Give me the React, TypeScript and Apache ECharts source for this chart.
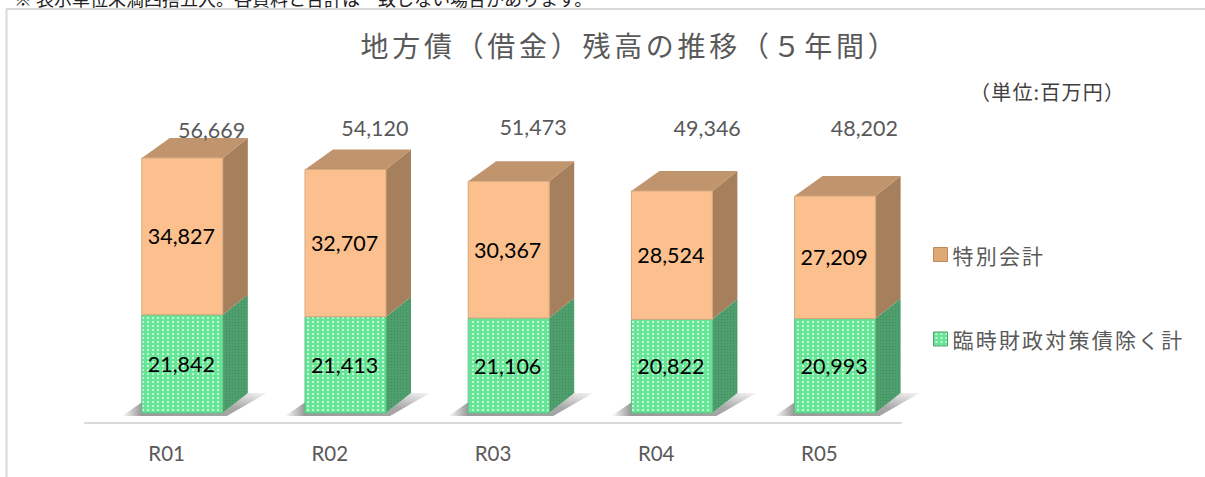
import React, { useEffect, useRef } from "react";
import * as echarts from "echarts";

const categories = ["R01", "R02", "R03", "R04", "R05"];
const lowerName = "臨時財政対策債除く計";
const upperName = "特別会計";
const lowerValues = [21842, 21413, 21106, 20822, 20993];
const upperValues = [34827, 32707, 30367, 28524, 27209];
const totals = [56669, 54120, 51473, 49346, 48202];
const totalOffsets = [45, 45, 40, 51, 45];
const totalYs = [130, 128, 127, 128, 128];
const titleText = "地方債（借金）残高の推移（５年間）";
const unitText = "（単位:百万円）";
const noteText = "※ 表示単位未満四捨五入。各資料と合計は一致しない場合があります。";

const NUM_FONT = "Lato, 'Noto Sans', sans-serif";
const CJK_FONT = "'Noto Sans CJK JP', sans-serif";

function dots(w: number, h: number, bg: string, dot: string, dx: number, dy: number, dw: number, dh: number) {
  const c = document.createElement("canvas");
  c.width = w;
  c.height = h;
  const g = c.getContext("2d")!;
  g.fillStyle = bg;
  g.fillRect(0, 0, w, h);
  g.fillStyle = dot;
  g.fillRect(dx, dy, dw, dh);
  return { image: c.toDataURL(), repeat: "repeat", imageWidth: w, imageHeight: h } as any;
}

export default function App() {
  const ref = useRef<HTMLDivElement>(null);
  useEffect(() => {
    document.body.style.margin = "0";
    const chart = echarts.init(ref.current!, null, { renderer: "svg" });
    const greenFront = dots(5, 4, "#66E596", "#C4F8D6", 2, 1, 2, 2);
    const greenSide = dots(3, 3, "#4E9E6E", "#3F8A5B", 1, 1, 1, 1);
    const OFFSET = 15.7;
    const HALF = 40.5;
    const DX = 25;
    const DY = -20;

    const seg = (isTop: boolean, values: number[], bases: number[], front: any, side: any, stroke: string) =>
      (params: any, api: any) => {
        const i = api.value(0);
        const cx = api.coord([i, 0])[0] + OFFSET;
        const x0 = cx - HALF;
        const x1 = cx + HALF;
        const yb = api.coord([i, bases[i]])[1];
        const yt = api.coord([i, bases[i] + values[i]])[1];
        const children: any[] = [];
        if (!isTop) {
          children.push(
            {
              type: "polygon",
              shape: { points: [[x0 - 20, yb + 3], [x0 + 2, yb - 12], [x0 + 2, yb + 3]] },
              style: { fill: new echarts.graphic.LinearGradient(0, 0, 1, 0, [{ offset: 0, color: "#ffffff" }, { offset: 1, color: "#8c8c8c" }]) },
            },
            {
              type: "polygon",
              shape: { points: [[x0, yb], [x1, yb], [x1 + DX, yb + DY], [x1 + DX + 19, yb + DY], [x1 + 4, yb + 3], [x0, yb + 3]] },
              style: { fill: new echarts.graphic.LinearGradient(0, 1, 1, 0, [{ offset: 0, color: "#9a9a9a" }, { offset: 0.55, color: "#a8a8a8" }, { offset: 1, color: "#f4f4f4" }]) },
            }
          );
        }
        children.push({
          type: "polygon",
          shape: { points: [[x1, yb], [x1 + DX, yb + DY], [x1 + DX, yt + DY], [x1, yt]] },
          style: { fill: side },
        });
        if (isTop) {
          children.push({
            type: "polygon",
            shape: { points: [[x0, yt], [x0 + 28, yt + DY], [x1 + DX, yt + DY], [x1, yt]] },
            style: { fill: "#C0956E" },
          });
        }
        children.push({
          type: "rect",
          shape: { x: x0, y: yt, width: x1 - x0, height: yb - yt },
          style: { fill: front, stroke, lineWidth: 1 },
        });
        children.push({
          type: "text",
          x: cx - 1,
          y: (yt + yb) / 2,
          style: {
            text: values[i].toLocaleString("en-US"),
            fill: "#000000",
            font: `21.5px ${NUM_FONT}`,
            textAlign: "center",
            textVerticalAlign: "middle",
          },
        });
        return { type: "group", children };
      };

    const zeros = categories.map(() => 0);
    const option: any = {
      animation: false,
      backgroundColor: "#ffffff",
      tooltip: { show: false },
      title: {
        text: titleText,
        left: 625,
        top: 26,
        textAlign: "center",
        textStyle: { fontFamily: CJK_FONT, fontSize: 28, fontWeight: "normal", color: "#595959" },
      },
      legend: {
        show: true,
        orient: "vertical",
        left: 928,
        top: 239,
        itemGap: 63.5,
        itemWidth: 14,
        itemHeight: 14,
        icon: "rect",
        selectedMode: false,
        data: [
          { name: upperName, itemStyle: { color: "#E0A873", borderColor: "#B98A5E", borderWidth: 1 } },
          { name: lowerName, itemStyle: { color: greenFront, borderColor: "#4E9E6E", borderWidth: 1 } },
        ],
        textStyle: { fontFamily: CJK_FONT, fontSize: 21, color: "#595959" },
      },
      grid: { left: 85, width: 816, top: 143, height: 270 },
      xAxis: {
        type: "category",
        data: categories,
        offset: 10,
        axisLine: { onZero: false, lineStyle: { color: "#D9D9D9", width: 2 } },
        axisTick: { show: false },
        axisLabel: { margin: 19, fontFamily: NUM_FONT, fontSize: 20.5, color: "#595959" },
      },
      yAxis: { type: "value", min: 0, max: 60000, show: false },
      series: [
        {
          type: "custom",
          name: lowerName,
          coordinateSystem: "cartesian2d",
          clip: false,
          data: lowerValues.map((v, i) => [i, v]),
          encode: { x: 0, y: 1 },
          itemStyle: { color: "#66E596" },
          renderItem: seg(false, lowerValues, zeros, greenFront, greenSide, "#5CC085"),
        },
        {
          type: "custom",
          name: upperName,
          coordinateSystem: "cartesian2d",
          clip: false,
          data: upperValues.map((v, i) => [i, v]),
          encode: { x: 0, y: 1 },
          itemStyle: { color: "#FBBF8F" },
          renderItem: seg(true, upperValues, lowerValues, "#FCC08F", "#A67F5D", "#D5A77F"),
        },
        {
          type: "custom",
          name: "合計",
          coordinateSystem: "cartesian2d",
          clip: false,
          data: totals.map((v, i) => [i, v]),
          encode: { x: 0, y: 1 },
          renderItem: (params: any, api: any) => {
            const i = api.value(0);
            return {
              type: "text",
              x: api.coord([i, 0])[0] + totalOffsets[i],
              y: totalYs[i],
              style: {
                text: totals[i].toLocaleString("en-US"),
                fill: "#595959",
                font: `21.5px ${NUM_FONT}`,
                textAlign: "center",
                textVerticalAlign: "middle",
              },
            };
          },
        },
      ],
      graphic: [
        { type: "line", silent: true, shape: { x1: 6.5, y1: 9, x2: 6.5, y2: 477 }, style: { stroke: "#D9D9D9", lineWidth: 2 } },
        { type: "line", silent: true, shape: { x1: 6, y1: 9, x2: 1205, y2: 9 }, style: { stroke: "#D9D9D9", lineWidth: 2 } },
        {
          type: "text",
          x: 14,
          y: -2,
          style: { text: noteText, fill: "#222222", font: `18px ${CJK_FONT}`, textVerticalAlign: "middle" },
        },
        {
          type: "text",
          x: 970,
          y: 91,
          style: { text: unitText, fill: "#404040", font: `20px ${CJK_FONT}`, textVerticalAlign: "middle" },
        },
      ],
    };
    chart.setOption(option);
    return () => chart.dispose();
  }, []);
  return (
    <>
      <style>{`
        svg text[style*="28px"] { letter-spacing: 3.7px; }
        svg text[style*="21px"] { letter-spacing: 2.2px; }
        svg text[style*="20px"] { letter-spacing: 1.2px; }
      `}</style>
      <div ref={ref} style={{ width: 1205, height: 477 }} />
    </>
  );
}
